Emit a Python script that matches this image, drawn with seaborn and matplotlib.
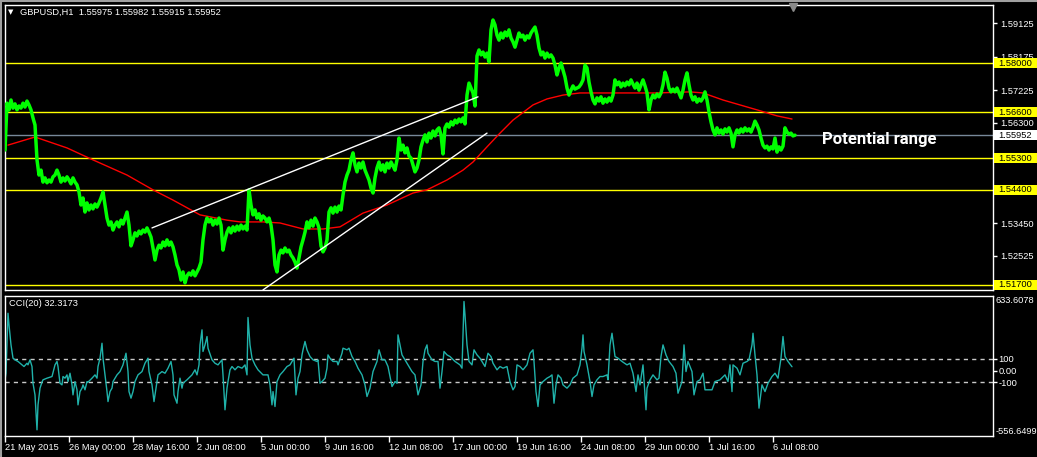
import numpy as np
import pandas as pd
import matplotlib
matplotlib.use("Agg")
import matplotlib.pyplot as plt
import matplotlib.transforms as mtrans
from matplotlib.patches import Rectangle
from matplotlib.lines import Line2D
import seaborn as sns

# ---------------- data ----------------
symbol_header = "GBPUSD,H1  1.55975 1.55982 1.55915 1.55952"
cci_header = "CCI(20) 32.3173"
annotation = "Potential range"

# close prices, one value every 2 H1 bars
close = [1.5553, 1.5686, 1.5667, 1.5695, 1.5672, 1.5684, 1.5667, 1.5678, 1.5672, 1.5686,
         1.5675, 1.5692, 1.5681, 1.5667, 1.5644, 1.5624, 1.5525, 1.5482, 1.5496, 1.5462,
         1.5474, 1.5460, 1.5468, 1.5462, 1.5477, 1.5482, 1.5496, 1.5482, 1.5462, 1.5474,
         1.5465, 1.5477, 1.5468, 1.5457, 1.5474, 1.5462, 1.5454, 1.5434, 1.5397, 1.5417,
         1.5377, 1.5403, 1.5383, 1.5397, 1.5386, 1.5400, 1.5391, 1.5403, 1.5417, 1.5434,
         1.5397, 1.5360, 1.5340, 1.5349, 1.5326, 1.5340, 1.5349, 1.5335, 1.5354, 1.5343,
         1.5360, 1.5377, 1.5340, 1.5281, 1.5298, 1.5318, 1.5309, 1.5323, 1.5315, 1.5326,
         1.5320, 1.5332, 1.5320, 1.5306, 1.5275, 1.5241, 1.5269, 1.5283, 1.5275, 1.5292,
         1.5281, 1.5298, 1.5283, 1.5292, 1.5278, 1.5255, 1.5227, 1.5213, 1.5184, 1.5207,
         1.5176, 1.5196, 1.5204, 1.5198, 1.5210, 1.5196, 1.5207, 1.5218, 1.5235, 1.5298,
         1.5340, 1.5360, 1.5349, 1.5357, 1.5340, 1.5354, 1.5343, 1.5360, 1.5340, 1.5269,
         1.5298, 1.5320, 1.5332, 1.5318, 1.5335, 1.5323, 1.5337, 1.5326, 1.5340, 1.5329,
         1.5337, 1.5326, 1.5440, 1.5397, 1.5369, 1.5383, 1.5360, 1.5372, 1.5354, 1.5366,
         1.5360, 1.5349, 1.5360, 1.5340, 1.5298, 1.5227, 1.5207, 1.5255, 1.5269, 1.5261,
         1.5275, 1.5264, 1.5269, 1.5255, 1.5247, 1.5235, 1.5218, 1.5247, 1.5278, 1.5298,
         1.5320, 1.5349, 1.5332, 1.5354, 1.5337, 1.5360, 1.5349, 1.5332, 1.5281, 1.5264,
         1.5275, 1.5298, 1.5377, 1.5389, 1.5374, 1.5391, 1.5377, 1.5394, 1.5383, 1.5425,
         1.5462, 1.5482, 1.5496, 1.5525, 1.5545, 1.5511, 1.5491, 1.5516, 1.5502, 1.5519,
         1.5496, 1.5482, 1.5468, 1.5445, 1.5431, 1.5474, 1.5502, 1.5519, 1.5496, 1.5511,
         1.5491, 1.5516, 1.5502, 1.5519, 1.5508, 1.5496, 1.5525, 1.5587, 1.5553, 1.5567,
         1.5545, 1.5559, 1.5536, 1.5530, 1.5511, 1.5491, 1.5502, 1.5525, 1.5562, 1.5581,
         1.5596, 1.5576, 1.5601, 1.5587, 1.5607, 1.5593, 1.5610, 1.5616, 1.5596, 1.5542,
         1.5616, 1.5627, 1.5618, 1.5633, 1.5624, 1.5638, 1.5630, 1.5641, 1.5633, 1.5644,
         1.5627, 1.5709, 1.5743, 1.5729, 1.5715, 1.5678, 1.5820, 1.5837, 1.5823, 1.5831,
         1.5817, 1.5828, 1.5803, 1.5894, 1.5922, 1.5908, 1.5879, 1.5865, 1.5885, 1.5871,
         1.5888, 1.5877, 1.5894, 1.5871, 1.5860, 1.5845, 1.5865, 1.5885, 1.5874, 1.5879,
         1.5865, 1.5877, 1.5871, 1.5885, 1.5894, 1.5902, 1.5879, 1.5843, 1.5823, 1.5831,
         1.5814, 1.5828, 1.5817, 1.5823, 1.5814, 1.5794, 1.5766, 1.5786, 1.5800, 1.5780,
         1.5760, 1.5729, 1.5709, 1.5723, 1.5735, 1.5726, 1.5729, 1.5732, 1.5740, 1.5752,
         1.5794, 1.5786, 1.5746, 1.5718, 1.5695, 1.5684, 1.5701, 1.5692, 1.5704, 1.5686,
         1.5698, 1.5689, 1.5701, 1.5692, 1.5709, 1.5752, 1.5738, 1.5746, 1.5732, 1.5743,
         1.5735, 1.5746, 1.5738, 1.5752, 1.5740, 1.5729, 1.5743, 1.5723, 1.5738, 1.5752,
         1.5735, 1.5715, 1.5667, 1.5695, 1.5709, 1.5701, 1.5712, 1.5704, 1.5715, 1.5738,
         1.5774, 1.5757, 1.5729, 1.5718, 1.5726, 1.5718, 1.5729, 1.5715, 1.5701, 1.5723,
         1.5752, 1.5772, 1.5738, 1.5709, 1.5695, 1.5704, 1.5689, 1.5698, 1.5692, 1.5701,
         1.5718, 1.5695, 1.5661, 1.5633, 1.5610, 1.5596, 1.5616, 1.5601, 1.5610, 1.5598,
         1.5613, 1.5604, 1.5616, 1.5601, 1.5562, 1.5596, 1.5610, 1.5601, 1.5613, 1.5604,
         1.5616, 1.5607, 1.5613, 1.5604, 1.5618, 1.5635, 1.5624, 1.5610, 1.5587, 1.5567,
         1.5559, 1.5564, 1.5553, 1.5562, 1.5556, 1.5587, 1.5547, 1.5562, 1.5553, 1.5564,
         1.5616, 1.5604, 1.5598, 1.5601, 1.5593, 1.55952]
close_bar = np.arange(len(close)) * 2

# moving average (red)
ma_bar = [3, 30, 62, 88, 122, 148, 168, 195, 222, 235, 258, 275, 298, 318, 335, 358, 382,
          408, 422, 442, 458, 468, 482, 495, 508, 528, 542, 558, 575, 600, 618, 652, 685,
          698, 718, 735, 752, 772, 787]
ma_val = [1.5567, 1.5590, 1.5559, 1.5525, 1.5482, 1.5440, 1.5411, 1.5369, 1.5354, 1.5349,
          1.5349, 1.5346, 1.5329, 1.5329, 1.5335, 1.5374, 1.5397, 1.5431, 1.5440, 1.5468,
          1.5496, 1.5519, 1.5562, 1.5601, 1.5638, 1.5681, 1.5698, 1.5709, 1.5715, 1.5715,
          1.5715, 1.5715, 1.5718, 1.5715, 1.5695, 1.5681, 1.5667, 1.5650, 1.5641]

# horizontal levels
yellow_levels = [1.58000, 1.56600, 1.55300, 1.54400, 1.51700]
last_price = 1.55952
price_ticks = [1.59125, 1.58175, 1.57225, 1.56300, 1.53450, 1.52525]

# drawn trendlines (bar, price)
trend_upper_bar = [147, 473]
trend_upper_val = [1.5332, 1.5704]
trend_lower_bar = [258, 482]
trend_lower_val = [1.5156, 1.5601]

# CCI(20)
cci_bar = [0, 1, 3, 4, 6, 8, 10, 13, 17, 19, 22, 23, 25, 27, 28, 30, 32, 33, 35, 37,
           38, 42, 47, 50, 52, 53, 55, 57, 58, 60, 62, 63, 65, 67, 68, 70, 72, 73, 75, 77,
           78, 80, 82, 83, 87, 90, 92, 93, 95, 97, 98, 100, 102, 103, 105, 107, 108, 112, 115, 118,
           121, 123, 124, 126, 128, 130, 133, 137, 140, 143, 144, 147, 149, 151, 153, 157, 160, 163, 166, 168,
           169, 172, 173, 175, 177, 178, 182, 187, 190, 192, 194, 195, 197, 198, 200, 202, 203, 207, 210, 213,
           217, 218, 220, 222, 223, 225, 227, 230, 233, 237, 240, 242, 243, 245, 247, 250, 253, 258, 263, 265,
           267, 268, 270, 272, 275, 278, 282, 285, 288, 289, 291, 293, 295, 297, 298, 300, 302, 305, 308, 312,
           313, 315, 317, 320, 322, 323, 325, 328, 332, 333, 337, 338, 342, 344, 347, 350, 353, 357, 360, 362,
           365, 368, 372, 374, 377, 380, 383, 387, 388, 390, 392, 393,
           395, 397, 400, 403, 407, 410, 413, 416, 418, 420, 422, 423, 427, 430, 433, 435, 437, 439, 442, 445,
           450, 455, 457, 459, 460, 462, 464, 467, 469, 472, 475, 480, 483, 486, 488, 492, 495, 498, 502, 505,
           508, 510, 512, 515, 518, 522, 525, 528, 529, 531, 533, 535, 538, 542, 545, 547, 549, 551, 553, 556,
           558, 562, 565, 568, 572, 575, 577, 578, 579, 582, 585, 587, 589, 592, 595, 598, 602, 603, 605, 607,
           610, 613, 617, 622, 625, 628, 631, 633, 635, 638, 640, 641, 642, 645, 648, 652, 654, 656, 658, 661,
           664, 668, 671, 673, 677, 679, 681, 683, 687, 689, 692, 695, 698, 700, 703, 707, 710, 715, 720, 723,
           725, 727, 728, 732, 735, 738, 742, 744, 747, 748, 750, 752, 754, 757, 760, 763, 767, 770, 773, 776,
           778, 780, 783, 787]
cci_val = [-80, -23, 487, 388, 218, 105, 91, 77, 48, 34, 62, 48, 91, 34, -108, -207, -504, -292, -150, -99,
           -79, -65, -51, 48, 77, 34, -108, -122, -51, -65, -37, -94, -23, -122, -207, -94, -164, -292, -179, -150,
           -122, -164, -94, -99, -65, -37, -65, 34, 105, 232, 105, -37, -179, -264, -179, -150, -94, -37, -9, 48,
           147, -9, -179, -235, -179, -94, -37, -9, 62, 105, -9, -122, -264, -150, -37, -9, -23, 20, 77, -37,
           -207, -278, -179, -65, -150, -108, -79, -37, 6, -37, 48, 218, 346, 162, 218, 289, 190, 91, 62, 48,
           91, -37, -334, -150, -94, 6, 34, 6, 34, 20, 48, -37, 451, 218, 105, 48, 6, -37, -37, -122,
           -292, -179, -306, -94, -37, -9, 34, 48, 91, 105, -207, -65, -9, 133, 176, 247, 176, 119, 91, 77,
           91, -108, -94, -65, 20, 133, 105, 77, 77, 48, 147, 190, 176, 190, 119, 77, 20, -37, -122, -221,
           -150, -9, 77, 176, 91, 91, 34, -136, -122, -94, -108, 303,
           218, 133, 91, 48, -9, -37, -207, -122, 77, 176, 218, 147, 91, 77, 77, -150, -9, 162, 133, 119,
           77, 48, 20, 587, 473, 218, 77, 48, 176, 133, 105, 34, 147, 119, 62, 6, 34, 20, 34, -94,
           -164, -136, 48, 34, 6, 48, 147, 176, 77, -179, -306, -122, -94, -65, -51, -37, -278, -122, -37, -65,
           -122, -150, -122, -65, -37, 48, 190, 303, 162, 48, -94, -221, -122, -79, -51, -51, -37, -79, 218, 317,
           119, 105, 77, 48, 62, -23, -179, -37, -122, 48, -207, -334, -150, -79, -37, -79, -65, 119, 218, 133,
           77, 34, -23, -193, -94, 218, -9, 77, -9, -207, -94, -79, -23, -164, -164, -164, -94, -79, -37, -94,
           48, -179, 48, 20, -37, 62, 77, 91, 218, 317, 133, -37, -320, -122, -179, -108, -51, -23, -65, 105,
           289, 119, 77, 32.3]
cci_levels = [100, -100]
cci_max, cci_min = 633.6078, -556.6499

# time axis
time_tick_bar = [0, 64, 128, 192, 256, 320, 384, 448, 512, 576, 640, 704, 768]
time_tick_label = ["21 May 2015", "26 May 00:00", "28 May 16:00", "2 Jun 08:00", "5 Jun 00:00",
                   "9 Jun 16:00", "12 Jun 08:00", "17 Jun 00:00", "19 Jun 16:00", "24 Jun 08:00",
                   "29 Jun 00:00", "1 Jul 16:00", "6 Jul 08:00"]

price_df = pd.DataFrame({"bar": close_bar, "close": close})
ma_df = pd.DataFrame({"bar": ma_bar, "ma": ma_val})
cci_df = pd.DataFrame({"bar": cci_bar, "cci": cci_val})

# ---------------- style ----------------
sns.set_theme(style="dark")
plt.rcParams['font.family'] = ['Liberation Sans', 'DejaVu Sans']
FS = 6.7

W, H = 1037, 457
fig = plt.figure(figsize=(W / 100, H / 100), dpi=100, facecolor="black")

def fx(px):
    return px / W

def fy(py):
    return 1 - py / H

ax1 = fig.add_axes([fx(5), fy(290), 988 / W, 285 / H])
ax2 = fig.add_axes([fx(5), fy(436), 988 / W, 140 / H])

for ax in (ax1, ax2):
    ax.set_facecolor("black")
    ax.grid(False)
    for s in ax.spines.values():
        s.set_color("white")
        s.set_linewidth(1)
    ax.set_xlim(0, 988)
    ax.set_xlabel("")
    ax.set_ylabel("")

# ---------------- main panel ----------------
ylo = 1.59788 - 0.0002838 * 290
yhi = 1.59788 - 0.0002838 * 5
ax1.set_ylim(ylo, yhi)

for lv in yellow_levels:
    ax1.axhline(lv, color="#FFFF00", lw=1, zorder=1)
ax1.axhline(last_price, color="#778899", lw=1, zorder=1)

sns.lineplot(data=ma_df, x="bar", y="ma", ax=ax1, color="#FF0000", lw=1,
             estimator=None, sort=False, zorder=2)
sns.lineplot(data=price_df, x="bar", y="close", ax=ax1, color="#00FF00", lw=2.5,
             estimator=None, sort=False, zorder=3)
ax1.plot(trend_upper_bar, trend_upper_val, color="white", lw=1, zorder=4)
ax1.plot(trend_lower_bar, trend_lower_val, color="white", lw=1, zorder=4)
ax1.set_xlabel("")
ax1.set_ylabel("")

ax1.set_xticks([])
ax1.yaxis.tick_right()
ax1.set_yticks(price_ticks)
ax1.set_yticklabels([f"{v:.5f}" for v in price_ticks])
ax1.tick_params(axis="y", colors="white", labelcolor="white", labelsize=FS,
                length=3, width=1, pad=2, right=True, left=False)

blend1 = mtrans.blended_transform_factory(ax1.transAxes, ax1.transData)
half = 5 * 0.0002838
for lv, bg in [(v, "#FFFF00") for v in yellow_levels] + [(last_price, "white")]:
    ax1.add_patch(Rectangle((1.0 + 1 / 988, lv - half), 44 / 988, 2 * half,
                            transform=blend1, facecolor=bg, edgecolor="none",
                            clip_on=False, zorder=10))
    ax1.text(1.0 + 5 / 988, lv, f"{lv:.5f}", transform=blend1, color="black",
             fontsize=FS, va="center", ha="left", clip_on=False, zorder=11)

ax1.text(817, 1.5570, annotation, color="white", fontsize=12, fontweight="bold",
         family=["Roboto", "Liberation Sans", "DejaVu Sans"],
         va="baseline", ha="left", zorder=12)

# chart-shift marker
ax1.plot([788], [1.59590], marker="v", color="#8a8a8a", ms=6, clip_on=False, zorder=12)

# ---------------- CCI panel ----------------
ax2.set_ylim(cci_min, cci_max)
for lv in cci_levels:
    ax2.axhline(lv, color="#C8C8C8", lw=1, ls=(0, (3, 3)), zorder=1)
sns.lineplot(data=cci_df, x="bar", y="cci", ax=ax2, color="#20B2AA", lw=1,
             estimator=None, sort=False, zorder=2)
ax2.set_xlabel("")
ax2.set_ylabel("")

ax2.yaxis.tick_right()
ax2.set_yticks([100, 0, -100])
ax2.set_yticklabels(["100", "0.00", "-100"])
ax2.tick_params(axis="y", colors="white", labelcolor="white", labelsize=FS,
                length=3, width=1, pad=1, right=True, left=False)
blend2 = mtrans.blended_transform_factory(ax2.transAxes, ax2.transData)
ax2.text(1.0 + 3 / 988, cci_max, f"{cci_max:.4f}", transform=blend2, color="white",
         fontsize=FS, va="top", ha="left", clip_on=False)
ax2.text(1.0 + 3 / 988, cci_min, f"{cci_min:.4f}", transform=blend2, color="white",
         fontsize=FS, va="bottom", ha="left", clip_on=False)

ax2.set_xticks(time_tick_bar)
ax2.set_xticklabels(time_tick_label, ha="left")
ax2.tick_params(axis="x", colors="white", labelcolor="white", labelsize=FS,
                length=4, width=1, pad=1, bottom=True)
for lbl in ax2.get_xticklabels():
    lbl.set_horizontalalignment("left")

# ---------------- headers & frame ----------------
fig.text(fx(7.5), fy(12), "\u25BC", color="white", fontsize=5, va="center", ha="left",
         family=["DejaVu Sans"])
fig.text(fx(20), fy(12), symbol_header, color="white", fontsize=FS, va="center", ha="left")
fig.text(fx(9), fy(303), cci_header, color="white", fontsize=FS, va="center", ha="left")

fig.add_artist(Line2D([0, 1], [fy(0.75), fy(0.75)], transform=fig.transFigure,
                      color="#a0a0a0", lw=1.5))
fig.add_artist(Line2D([fx(0.75), fx(0.75)], [0, 1], transform=fig.transFigure,
                      color="#a0a0a0", lw=1.5))

fig.savefig("out.png", dpi=100, facecolor="black")
